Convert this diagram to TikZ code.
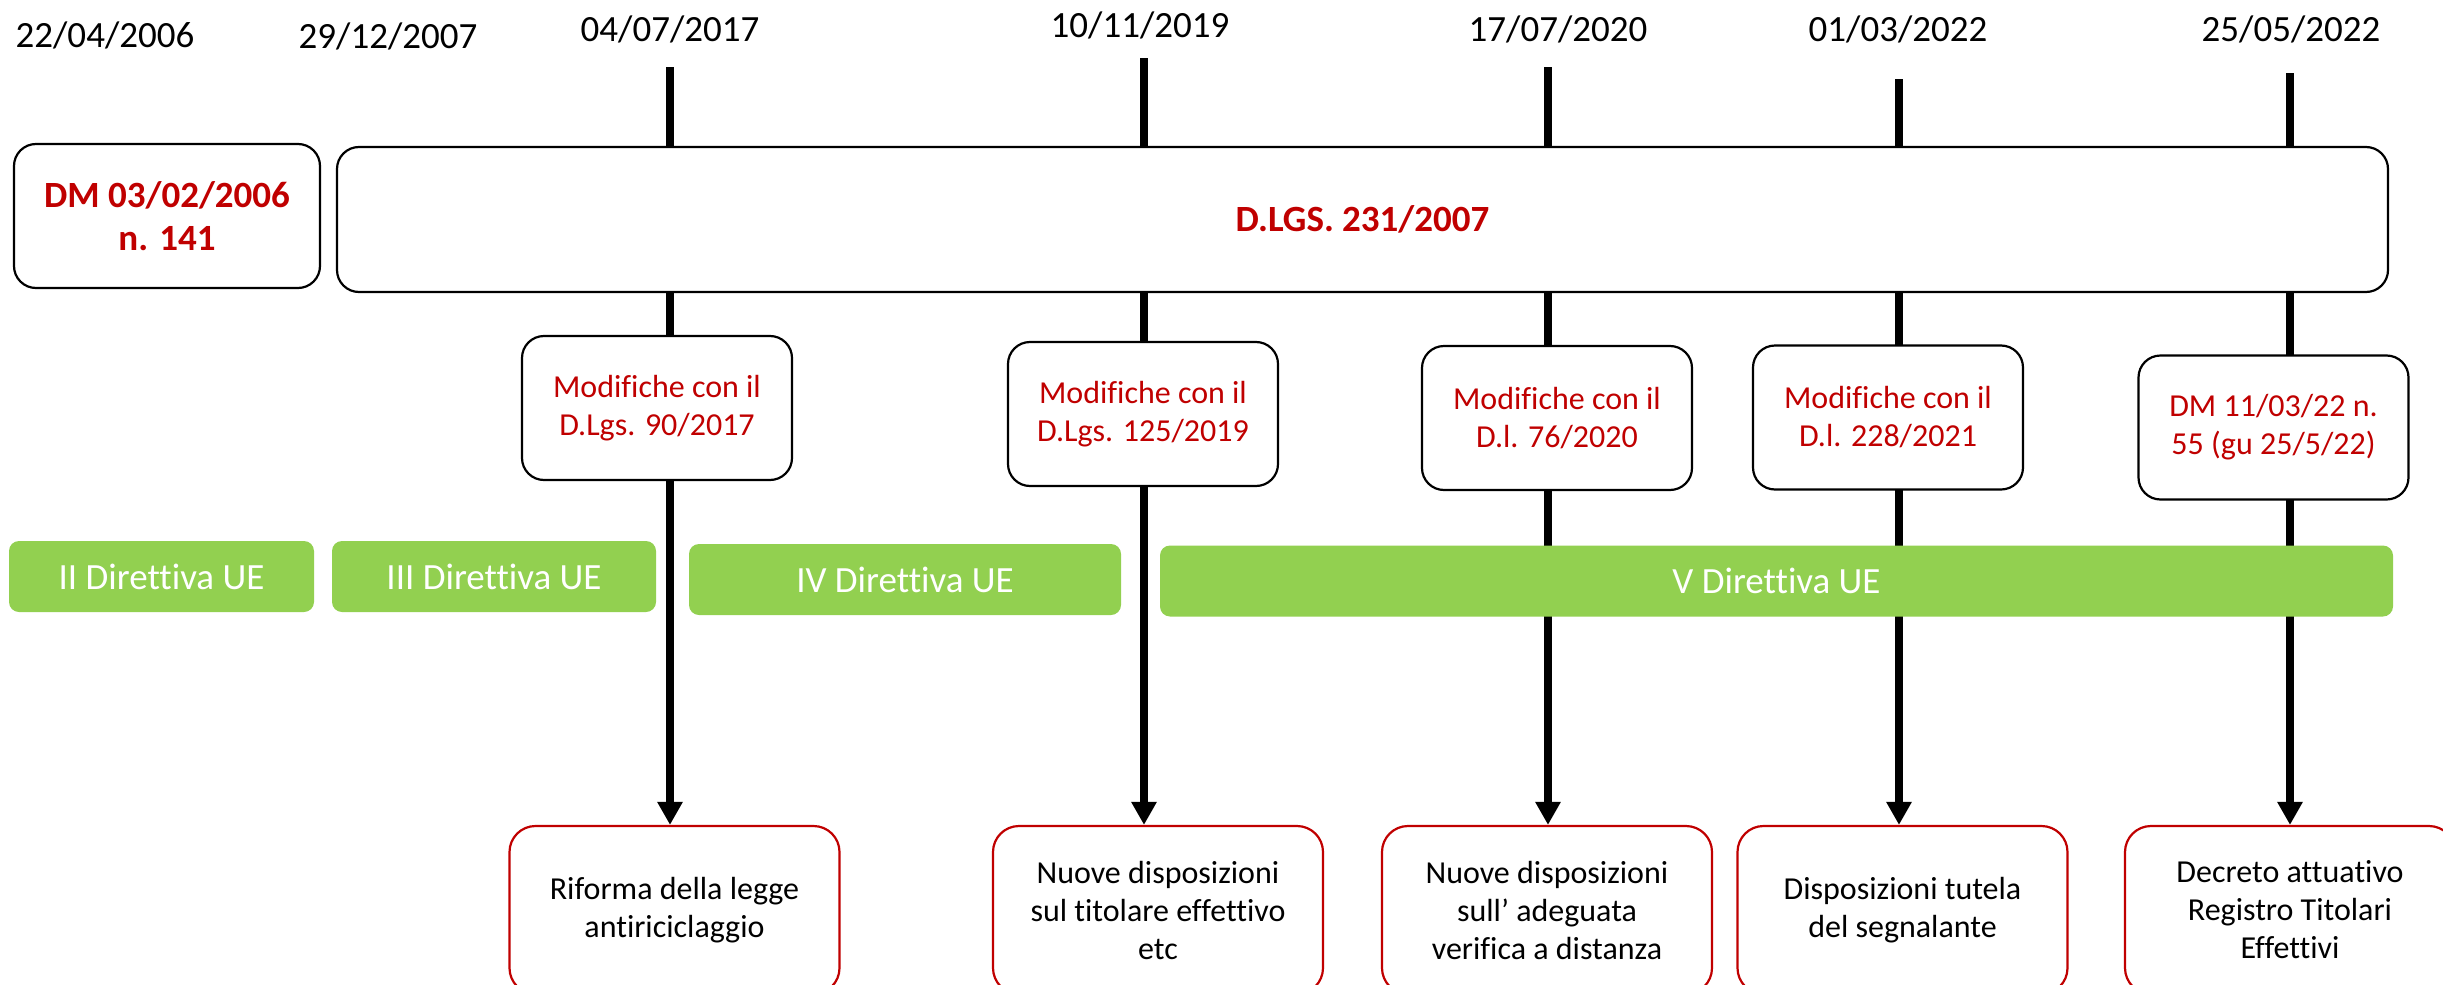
\documentclass[tikz,border=0pt]{standalone}
\usepackage{fontspec}
\setmainfont{Carlito}[RawFeature={-liga;-clig;-dlig}]
\usetikzlibrary{arrows.meta,backgrounds}
\definecolor{dred}{HTML}{C00000}
\definecolor{lgreen}{HTML}{92D050}
\tikzset{
  datelbl/.style={anchor=base, inner sep=0pt, font=\fontsize{18.5pt}{22pt}\selectfont},
  tickline/.style={line width=3.8pt, -{Triangle[width=12pt,length=11.5pt]}},
  blackbox/.style={draw=black, line width=1.1pt, fill=white, rounded corners=11pt, inner sep=0pt, align=center, text=dred},
  bigbox/.style={blackbox, font=\bfseries\fontsize{18.5pt}{21.5pt}\selectfont},
  modbox/.style={blackbox, font=\fontsize{16pt}{19pt}\selectfont, minimum width=135pt, minimum height=72pt},
  greenbox/.style={fill=lgreen, rounded corners=5pt, inner sep=0pt, text=white, minimum height=35.5pt, font=\fontsize{18.5pt}{22pt}\selectfont},
  resbox/.style={draw=dred, line width=1.1pt, fill=white, rounded corners=13pt, inner sep=0pt, align=center, font=\fontsize{16pt}{19pt}\selectfont, minimum width=165pt, minimum height=84pt},
}
\begin{document}
\begin{tikzpicture}[x=0.5pt,y=-0.5pt]
\useasboundingbox (0,0) rectangle (2443,985);
\clip (0,0) rectangle (2443,985);

% dates
\node[datelbl] (d1) at (105,47) {22/04/2006};
\node[datelbl] (d2) at (388,48) {29/12/2007};
\node[datelbl] (d3) at (670,41) {04/07/2017};
\node[datelbl] (d4) at (1140,38) {10/11/2019};
\node[datelbl] (d5) at (1558,41) {17/07/2020};
\node[datelbl] (d6) at (1898,41) {01/03/2022};
\node[datelbl] (d7) at (2291,41) {25/05/2022};

% tick tops
\coordinate (t1) at (670,67);
\coordinate (t2) at (1144,58);
\coordinate (t3) at (1548,67);
\coordinate (t4) at (1899,79);
\coordinate (t5) at (2290,73);

% top boxes
\node[bigbox, minimum width=153pt, minimum height=72pt] (dm) at (167,216) {DM 03/02/2006\\n. 141};
\node[bigbox, minimum width=1025.5pt, minimum height=72.5pt] (dlgs) at (1362.5,219.5) {D.LGS. 231/2007};

% modification boxes
\node[modbox] (m1) at (657,408) {Modifiche con il\\D.Lgs. 90/2017};
\node[modbox] (m2) at (1143,414) {Modifiche con il\\D.Lgs. 125/2019};
\node[modbox] (m3) at (1557,418) {Modifiche con il\\D.l. 76/2020};
\node[modbox] (m4) at (1888,417.5) {Modifiche con il\\D.l. 228/2021};
\node[modbox] (m5) at (2273.5,427.5) {DM 11/03/22 n.\\55 (gu 25/5/22)};

% directives
\node[greenbox, minimum width=152.5pt] (g2) at (161.5,576.5) {II Direttiva UE};
\node[greenbox, minimum width=162pt] (g3) at (494,576.5) {III Direttiva UE};
\node[greenbox, minimum width=216pt] (g4) at (905,579.5) {IV Direttiva UE};
\node[greenbox, minimum width=616.5pt] (g5) at (1776.5,581) {V Direttiva UE};

% result boxes
\node[resbox] (b1) at (674.5,910) {Riforma della legge\\antiriciclaggio};
\node[resbox] (b2) at (1158,910) {Nuove disposizioni\\sul titolare effettivo\\etc};
\node[resbox] (b3) at (1547,910) {Nuove disposizioni\\sull’ adeguata\\verifica a distanza};
\node[resbox] (b4) at (1902.5,910) {Disposizioni tutela\\del segnalante};
\node[resbox] (b5) at (2290,910) {Decreto attuativo\\Registro Titolari\\Effettivi};

% timeline connectors behind boxes
\begin{scope}[on background layer]
\draw[tickline] (t1) -- (t1 |- b1.north);
\draw[tickline] (t2) -- (t2 |- b2.north);
\draw[tickline] (t3) -- (t3 |- b3.north);
\draw[tickline] (t4) -- (t4 |- b4.north);
\draw[tickline] (t5) -- (t5 |- b5.north);
\end{scope}
\end{tikzpicture}
\end{document}
